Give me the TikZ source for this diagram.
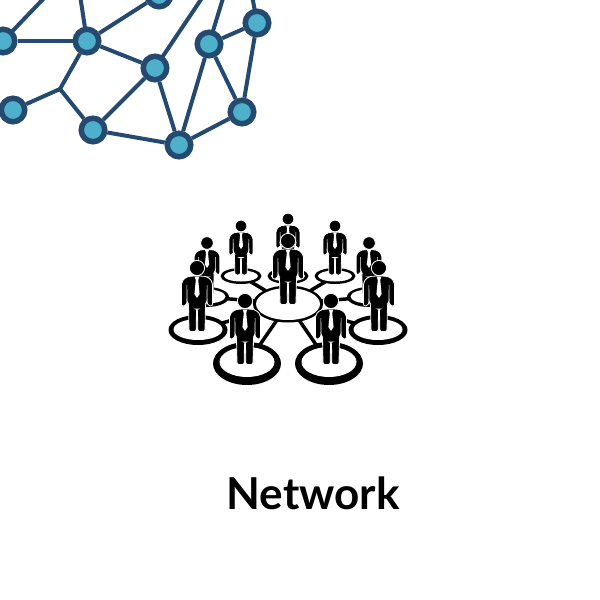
\documentclass[tikz,border=0pt]{standalone}
\usepackage{fontspec}
\setmainfont{Lato}
\usetikzlibrary{shapes.geometric}
\definecolor{netblue}{HTML}{254A70}
\definecolor{netcyan}{HTML}{4FB0CC}
\tikzset{
  hubnode/.style={circle, draw=netblue, fill=netcyan, line width=5.5pt, minimum size=23.5pt, inner sep=0pt},
  netline/.style={draw=netblue, line width=4pt},
  ring/.style={ellipse, fill=black, inner sep=0pt, outer sep=-1pt},
  spoke/.style={draw=black, line width=3.5pt},
  person/.pic={
    \fill[black, draw=white, line width=.8pt] (0,0) circle (7.6);
    \fill[black, draw=white, line width=.8pt, rounded corners=2pt]
      (-5,8) -- (-11,9) -- (-15.5,14) -- (-15.5,38) -- (-11,38) -- (-10,33) -- (-8.5,36)
      -- (-8,63.5) -- (-.8,63.5) -- (-.5,41) -- (.5,41) -- (.8,63.5) -- (8,63.5)
      -- (8.5,36) -- (10,33) -- (11,38) -- (15.5,38) -- (15.5,14) -- (11,9) -- (5,8) -- cycle;
    \fill[white] (-10.4,17) -- (-9.8,17) -- (-9.6,34) -- (-10.4,34) -- cycle;
    \fill[white] (10.4,17) -- (9.8,17) -- (9.6,34) -- (10.4,34) -- cycle;
    \fill[white] (-2.4,8.5) -- (2.4,8.5) -- (1.2,12) -- (2.6,26) -- (0,30) -- (-2.6,26) -- (-1.2,12) -- cycle;
  }
}
\begin{document}
\begin{tikzpicture}[x=1pt,y=-1pt]
\useasboundingbox (0,0) rectangle (600,600);
\coordinate (ea) at (47,-5);
\coordinate (eb) at (80,-5);
\coordinate (ec) at (204,-5);
\coordinate (ed) at (224,-5);
\coordinate (ee) at (252,-5);
\coordinate (jn) at (60,89);
\draw[netline] (ea) -- (3,41);
\draw[netline] (eb) -- (87,41);
\draw[netline] (ec) -- (155,68);
\draw[netline] (ed) -- (209,44);
\draw[netline] (ee) -- (257,23);
\node[hubnode] (na) at (3,41) {};
\node[hubnode] (nb) at (87,41) {};
\node[hubnode] (nc) at (155,68) {};
\node[hubnode] (nd) at (209,44) {};
\node[hubnode] (ne) at (257,23) {};
\node[hubnode] (nf) at (242,112) {};
\node[hubnode] (ng) at (179,145) {};
\node[hubnode] (nh) at (93,130) {};
\node[hubnode] (ni) at (13,110) {};
\node[hubnode] (nj) at (159,-5) {};
\draw[netline] (na) -- (nb);
\draw[netline] (nb) -- (nc);
\draw[netline] (nb) -- (nj);
\draw[netline, line join=round] (nb) -- (jn) -- (ni);
\draw[netline] (jn) -- (nh);
\draw[netline] (nh) -- (nc);
\draw[netline] (nc) -- (ng);
\draw[netline] (nh) -- (ng);
\draw[netline] (ng) -- (nd);
\draw[netline] (ng) -- (nf);
\draw[netline] (nf) -- (nd);
\draw[netline] (nf) -- (ne);
\draw[netline] (nd) -- (ne);
\node[ring, minimum width=41pt, minimum height=16pt] (rt) at (288,276) {};
\node[ring, minimum width=41pt, minimum height=16pt] (rb) at (241,276) {};
\node[ring, minimum width=41pt, minimum height=16pt] (rc) at (335,276) {};
\node[ring, minimum width=44pt, minimum height=20pt] (rd) at (207,297) {};
\node[ring, minimum width=44pt, minimum height=20pt] (re) at (369,297) {};
\node[ring, minimum width=59pt, minimum height=30pt] (rf) at (198,330) {};
\node[ring, minimum width=59pt, minimum height=30pt] (rg) at (378,330) {};
\node[ring, minimum width=68pt, minimum height=43pt] (rh) at (247,363.5) {};
\node[ring, minimum width=68pt, minimum height=43pt] (ri) at (329,363.5) {};
\node[ring, minimum width=70pt, minimum height=37pt] (hub) at (288,304) {};
\draw[spoke] (hub) -- (rb);
\draw[spoke] (hub) -- (rc);
\draw[spoke] (hub) -- (rd);
\draw[spoke] (hub) -- (re);
\draw[spoke] (hub) -- (rf);
\draw[spoke] (hub) -- (rg);
\draw[spoke] (hub) -- (rh);
\draw[spoke] (hub) -- (ri);
\fill[white] (rt.center) ellipse (17 and 5.5);
\fill[white] (rb.center) ellipse (17 and 5.5);
\fill[white] (rc.center) ellipse (17 and 5.5);
\fill[white] ([yshift=.5pt]rd.center) ellipse (18.5 and 7);
\fill[white] ([yshift=.5pt]re.center) ellipse (18.5 and 7);
\fill[white] ([yshift=.5pt]rf.center) ellipse (24.5 and 10.5);
\fill[white] ([yshift=.5pt]rg.center) ellipse (24.5 and 10.5);
\fill[white] ([yshift=1.5pt]rh.center) ellipse (27.5 and 15);
\fill[white] ([yshift=1.5pt]ri.center) ellipse (27.5 and 15);
\fill[white] (hub.center) ellipse (32 and 16);
\pic[scale=.77] (pa) at (288,219) {person};
\pic[scale=.77] (pb) at (241,226) {person};
\pic[scale=.77] (pc) at (335,226) {person};
\pic[scale=.83] (pd) at (207,243) {person};
\pic[scale=.83] (pe) at (369,243) {person};
\pic (pf) at (197,268) {person};
\pic (pg) at (379,268) {person};
\pic (ph) at (288,241) {person};
\pic (pi) at (245,301) {person};
\pic (pj) at (331,301) {person};
\node[font=\fontsize{44}{44}\selectfont\bfseries, inner sep=0pt] (title) at (313,493) {Network};
\end{tikzpicture}
\end{document}
